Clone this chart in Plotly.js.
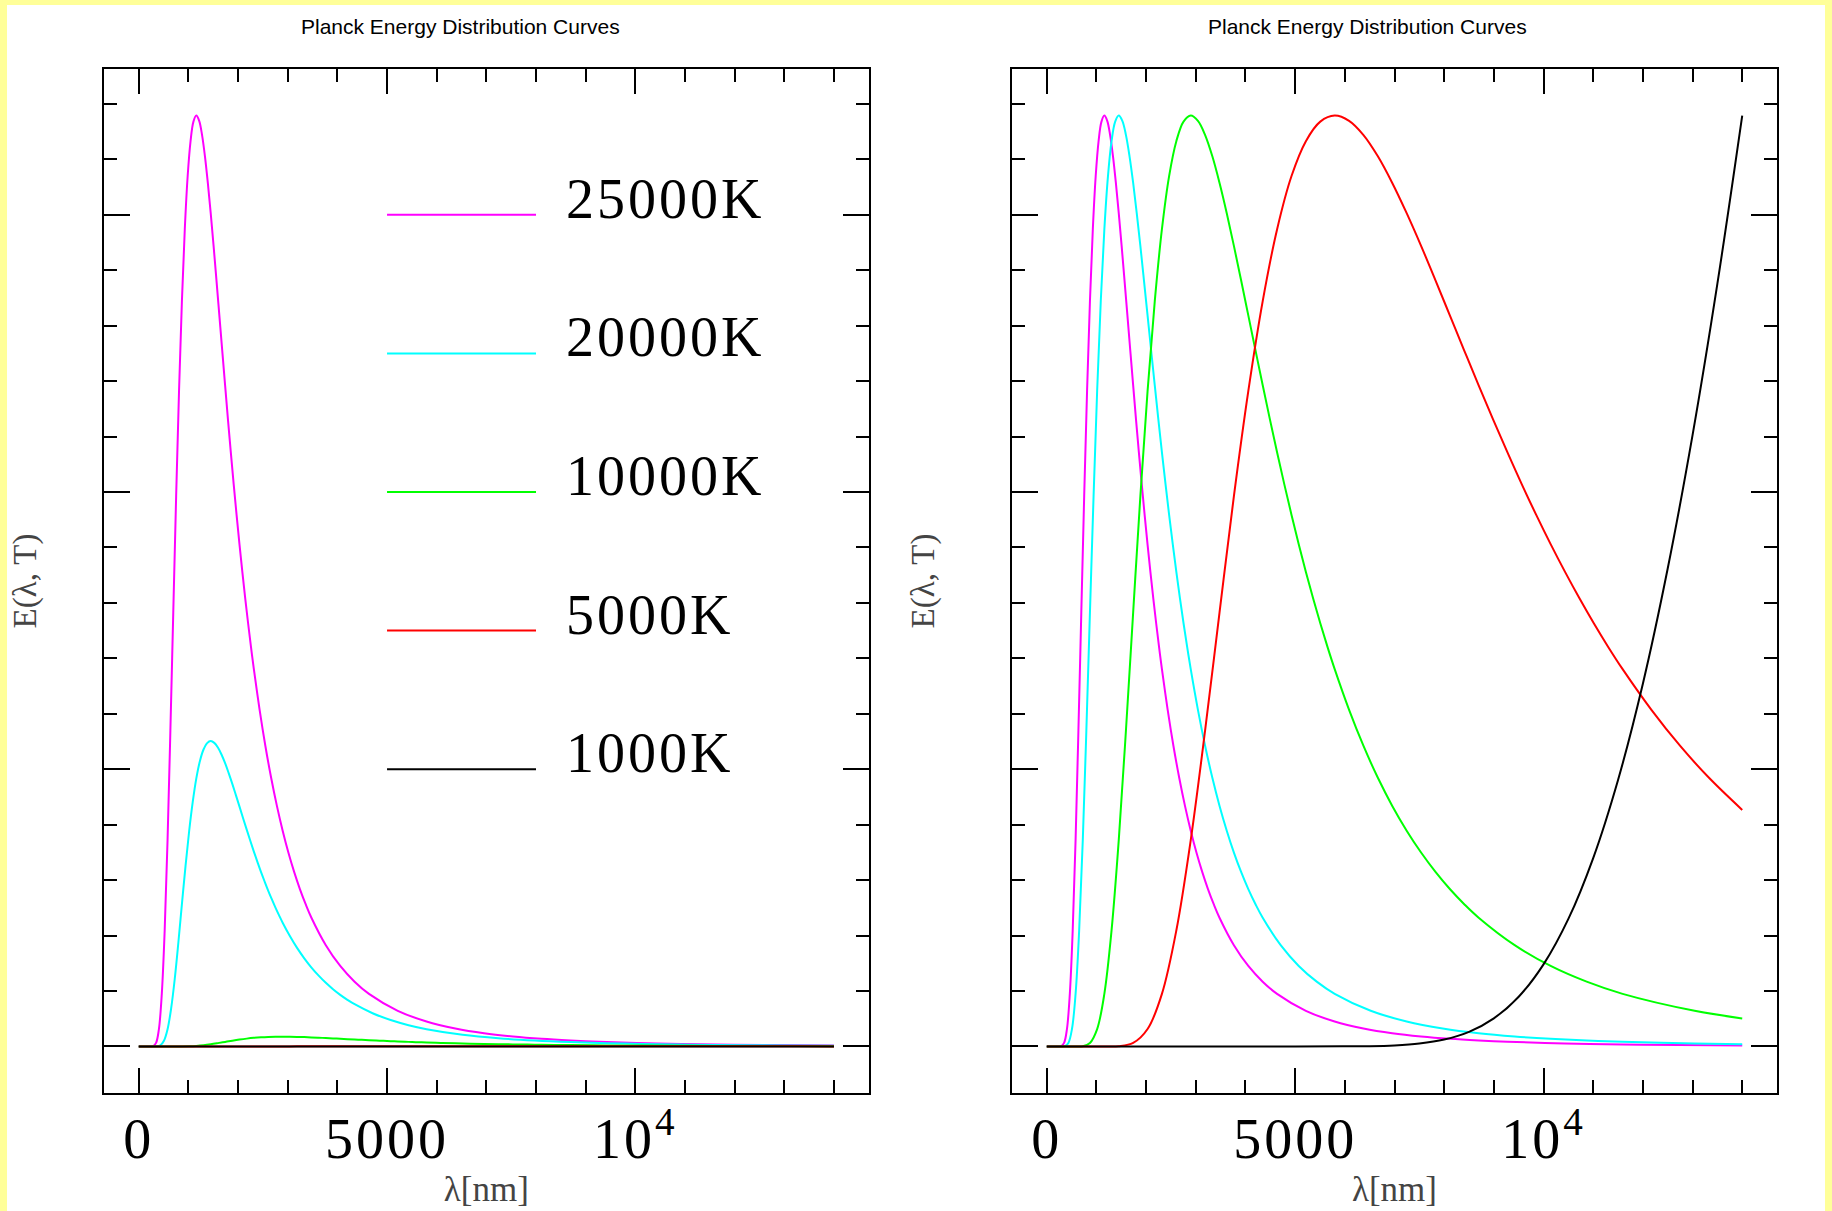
<!DOCTYPE html>
<html><head><meta charset="utf-8">
<script src="https://cdn.plot.ly/plotly-3.0.1.min.js"></script>
<style>
html,body{margin:0;padding:0;background:#ffff99;width:1832px;height:1211px;overflow:hidden;}
#chart{position:absolute;left:7px;top:5px;width:1818px;height:1230px;background:#fff;}
</style></head><body><div id="chart"></div>
<script>
// ---- data ----
const temperatures = ['25000K', '20000K', '10000K', '5000K', '1000K'];
const seriesColors = ['#ff00ff', '#00ffff', '#00ff00', '#ff0000', '#000000'];

// wavelength samples and energy normalised to each curve's maximum inside the plotted range
const x25000 = [0,232,290,348,406,464,522,580,637,695,753,811,869,927,985,1043,1101,1159,1217,1275,1333,1391,1449,1507,1565,1623,1681,1739,1796,1854,1912,1970,2028,2086,2144,2202,2260,2318,2434,2550,2666,2782,2898,3013,3129,3245,3361,3477,3767,4057,4346,4636,5216,5795,6375,6954,7534,8113,8693,9272,10431,11590,12749,14000];
const y25000 = [0,0,0.0003,0.0038,0.0187,0.0565,0.1246,0.2217,0.3397,0.4663,0.5912,0.704,0.8007,0.8779,0.935,0.9725,0.9935,1,0.9943,0.979,0.9562,0.9276,0.8951,0.86,0.823,0.7853,0.7476,0.7102,0.6736,0.6381,0.6038,0.571,0.5396,0.5098,0.4814,0.4546,0.4292,0.4053,0.3616,0.3228,0.2886,0.2584,0.2318,0.2083,0.1875,0.1691,0.1528,0.1383,0.1088,0.0865,0.0696,0.0565,0.0383,0.0268,0.0193,0.0142,0.0107,0.0082,0.0064,0.005,0.0033,0.0022,0.0015,0.0011];

const x20000 = [0,290,362,435,507,580,652,725,797,869,942,1014,1087,1159,1232,1304,1377,1449,1521,1594,1666,1739,1811,1884,1956,2029,2101,2174,2246,2318,2391,2463,2536,2608,2681,2753,2826,2898,3043,3188,3333,3478,3623,3767,3912,4057,4202,4347,4709,5072,5434,5796,6521,7245,7970,8694,9419,10143,10868,11592,13041,14000];
const y20000 = [0,0,0.0003,0.0038,0.0187,0.0565,0.1246,0.2217,0.3397,0.4663,0.5912,0.704,0.8007,0.8779,0.935,0.9725,0.9935,1,0.9943,0.979,0.9562,0.9276,0.8951,0.86,0.823,0.7853,0.7476,0.7102,0.6736,0.6381,0.6038,0.571,0.5396,0.5098,0.4814,0.4546,0.4292,0.4053,0.3616,0.3228,0.2886,0.2584,0.2318,0.2083,0.1875,0.1691,0.1528,0.1383,0.1088,0.0865,0.0696,0.0565,0.0383,0.0268,0.0193,0.0142,0.0107,0.0082,0.0064,0.005,0.0033,0.0025];

const x10000 = [0,580,725,869,1014,1159,1304,1449,1594,1739,1884,2029,2174,2318,2463,2608,2753,2898,3043,3188,3333,3478,3623,3767,3912,4057,4202,4347,4492,4637,4782,4927,5072,5216,5361,5506,5651,5796,6086,6376,6665,6955,7245,7535,7825,8114,8404,8694,9419,10143,10868,11592,13041,14000];
const y10000 = [0,0,0.0003,0.0038,0.0187,0.0565,0.1246,0.2217,0.3397,0.4663,0.5912,0.704,0.8007,0.8779,0.935,0.9725,0.9935,1,0.9943,0.979,0.9562,0.9276,0.8951,0.86,0.823,0.7853,0.7476,0.7102,0.6736,0.6381,0.6038,0.571,0.5396,0.5098,0.4814,0.4546,0.4292,0.4053,0.3616,0.3228,0.2886,0.2584,0.2318,0.2083,0.1875,0.1691,0.1528,0.1383,0.1088,0.0865,0.0696,0.0565,0.0383,0.0301];

const x5000 = [0,1159,1449,1739,2029,2318,2608,2898,3188,3478,3767,4057,4347,4637,4927,5216,5506,5796,6086,6376,6665,6955,7245,7535,7825,8114,8404,8694,8984,9274,9563,9853,10143,10433,10723,11012,11302,11592,12172,12751,13331,14000];
const y5000 = [0,0,0.0003,0.0038,0.0187,0.0565,0.1246,0.2217,0.3397,0.4663,0.5912,0.704,0.8007,0.8779,0.935,0.9725,0.9935,1,0.9943,0.979,0.9562,0.9276,0.8951,0.86,0.823,0.7853,0.7476,0.7102,0.6736,0.6381,0.6038,0.571,0.5396,0.5098,0.4814,0.4546,0.4292,0.4053,0.3616,0.3228,0.2886,0.2541];

const x1000 = [0,5000,6000,6500,7000,7500,8000,8500,9000,9500,10000,10500,11000,11500,12000,12500,13000,13500,14000];
const y1000 = [0,0,0.0001,0.0003,0.0011,0.0031,0.0074,0.0157,0.0302,0.0534,0.0882,0.137,0.2024,0.2863,0.3897,0.5134,0.6567,0.8194,1];

// peak height of each curve in the left (absolute) panel, relative to the 25000K peak
const leftPeakHeight = [1, 0.328, 0.0105, 0.0003, 0];

const xTickVals = [0, 5000, 10000];
const xTickText = ['0', '5000', '10<sup>4</sup>'];
const xMinorStep = 1000;
const yMajorStep = 0.2978;
const yMinorStep = 0.05956;
const legendLevels = [3, 2.5, 2, 1.5, 1];   // in major-tick units
const legendLineX = [5000, 8000];
const legendTextX = 8560;

const titleText = 'Planck Energy Distribution Curves';
const xTitle = 'λ[nm]';
const yTitle = 'E(λ, T)';

// ---- build ----
const spaced = t => '<span style="letter-spacing:3px">' + t + '</span>';
const xs = [x25000, x20000, x10000, x5000, x1000];
const ys = [y25000, y20000, y10000, y5000, y1000];
const traces = [];
for (let i = 0; i < temperatures.length; i++) {
  traces.push({
    type: 'scatter', mode: 'lines', name: temperatures[i],
    x: xs[i], y: ys[i].map(v => v * leftPeakHeight[i]),
    xaxis: 'x', yaxis: 'y', showlegend: false,
    line: {color: seriesColors[i], width: 2, shape: 'spline', smoothing: 1}
  });
}
for (let i = 0; i < temperatures.length; i++) {
  traces.push({
    type: 'scatter', mode: 'lines', name: temperatures[i],
    x: xs[i], y: ys[i],
    xaxis: 'x2', yaxis: 'y2', showlegend: false,
    line: {color: seriesColors[i], width: 2, shape: 'spline', smoothing: 1}
  });
}

const serif = 'Liberation Serif, Times New Roman, serif';
function xAxis(domain, anchor) {
  return {
    domain: domain, anchor: anchor, range: [-700, 14700],
    tickmode: 'array', tickvals: xTickVals, ticktext: xTickText.map(spaced),
    ticks: 'inside', ticklen: 25, tickwidth: 2, tickcolor: '#000',
    minor: {tickmode: 'linear', tick0: 0, dtick: xMinorStep, ticks: 'inside', ticklen: 13, tickwidth: 2, tickcolor: '#000', showgrid: false},
    showline: true, linewidth: 2, linecolor: '#000', mirror: 'ticks',
    showgrid: false, zeroline: false,
    tickfont: {family: serif, size: 56, color: '#000'},
    ticklabelstandoff: -4,
    automargin: true,
    title: {text: xTitle, font: {family: serif, size: 35, color: '#444'}, standoff: 2}
  };
}
function yAxis(domain, anchor) {
  return {
    domain: domain, anchor: anchor, range: [-0.05, 1.05],
    tickmode: 'linear', tick0: 0, dtick: yMajorStep,
    ticks: 'inside', ticklen: 26, tickwidth: 2, tickcolor: '#000',
    minor: {tickmode: 'linear', tick0: 0, dtick: yMinorStep, ticks: 'inside', ticklen: 13, tickwidth: 2, tickcolor: '#000', showgrid: false},
    showline: true, linewidth: 2, linecolor: '#000', mirror: 'ticks',
    showgrid: false, zeroline: false, showticklabels: false,
    title: {text: yTitle, font: {family: serif, size: 33, color: '#444'}, standoff: 65}
  };
}

const annotations = [
  {xref: 'paper', yref: 'paper', x: 0.21297, y: 1.04106, xanchor: 'center', yanchor: 'middle', showarrow: false,
   text: titleText, font: {family: 'Liberation Sans, Arial, sans-serif', size: 21, color: '#000'}},
  {xref: 'paper', yref: 'paper', x: 0.75529, y: 1.04106, xanchor: 'center', yanchor: 'middle', showarrow: false,
   text: titleText, font: {family: 'Liberation Sans, Arial, sans-serif', size: 21, color: '#000'}}
];
const shapes = [];
for (let i = 0; i < temperatures.length; i++) {
  const lvl = legendLevels[i] * yMajorStep;
  shapes.push({type: 'line', xref: 'x', yref: 'y', x0: legendLineX[0], x1: legendLineX[1], y0: lvl, y1: lvl,
               line: {color: seriesColors[i], width: 2}});
  annotations.push({xref: 'x', yref: 'y', x: legendTextX, y: lvl, xanchor: 'left', yanchor: 'middle', yshift: 16,
                    showarrow: false, text: spaced(temperatures[i]), font: {family: serif, size: 56, color: '#000'}});
}

const layout = {
  width: 1818, height: 1230,
  margin: {l: 97, r: 48, t: 64, b: 142},
  paper_bgcolor: '#ffffff', plot_bgcolor: '#ffffff',
  showlegend: false,
  xaxis: xAxis([0, 0.45709], 'y'),
  yaxis: yAxis([0, 1], 'x'),
  xaxis2: xAxis([0.54274, 1], 'y2'),
  yaxis2: yAxis([0, 1], 'x2'),
  annotations: annotations,
  shapes: shapes
};
Plotly.newPlot('chart', traces, layout, {displayModeBar: false, staticPlot: true});
</script></body></html>
